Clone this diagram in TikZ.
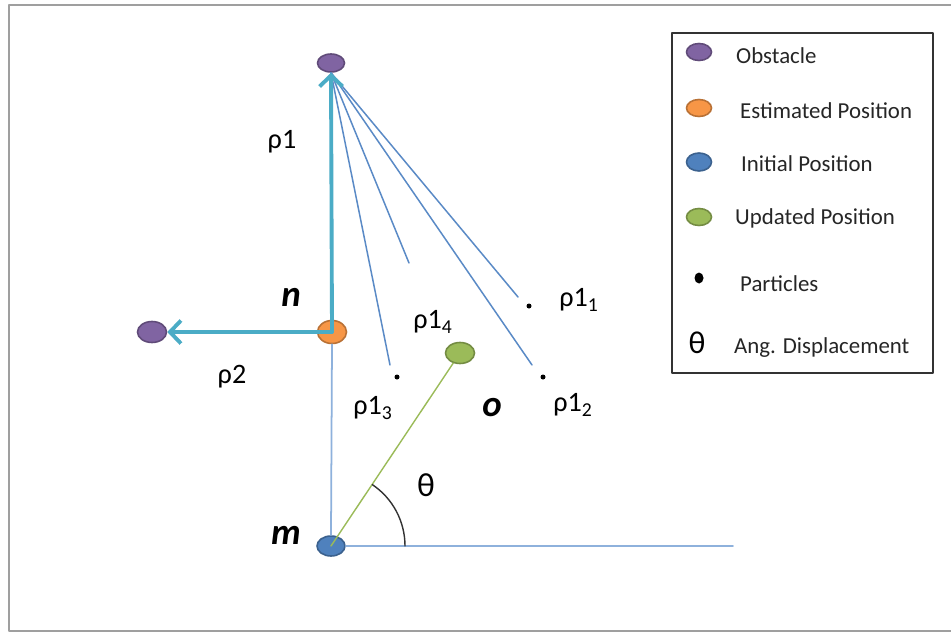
\documentclass[tikz,border=0pt]{standalone}
\usepackage{fontspec}
\setmainfont{Carlito}
\usetikzlibrary{shapes.geometric,arrows.meta}
\definecolor{obstpurple}{HTML}{8064A2}
\definecolor{estorange}{HTML}{F79646}
\definecolor{initblue}{HTML}{4F81BD}
\definecolor{updgreen}{HTML}{9BBB59}
\definecolor{beamcyan}{HTML}{4BACC6}
\definecolor{rayblue}{HTML}{5A8AC6}
\definecolor{axisblue}{HTML}{8EB1DC}

\begin{document}
\begin{tikzpicture}[line cap=round,line join=round,
  blob/.style={ellipse,draw=#1!75!black,fill=#1,line width=0.9pt,inner sep=0pt,
    minimum width=0.56cm,minimum height=0.40cm},
  particle/.style={circle,fill=black,inner sep=0pt,minimum size=0.10cm},
  ray/.style={draw=rayblue,line width=0.85pt},
  beam/.style={draw=beamcyan,line width=2.2pt,
    -{Straight Barb[length=2.2mm,width=4.6mm,line width=2.2pt]}},
  lbl/.style={font=\fontsize{16}{16}\selectfont},
  pt/.style={font=\fontsize{21}{21}\selectfont\bfseries\itshape},
  key/.style={anchor=west,font=\fontsize{13}{13}\selectfont,text=black!85}]
  \useasboundingbox (0,0) rectangle (19.02,12.66);
  \fill[white] (0,0) rectangle (19.02,12.66);
  \draw[gray!75,line width=1pt] (19.02,12.56) -- (0.18,12.56) -- (0.18,0.04) -- (19.02,0.04);

  % positions
  \node[blob=obstpurple,minimum width=0.54cm,minimum height=0.36cm] (obsA) at (6.62,11.40) {};
  \node[blob=obstpurple,minimum width=0.58cm,minimum height=0.42cm] (obsB) at (3.04,6.02) {};
  \node[blob=estorange,minimum width=0.58cm,minimum height=0.46cm] (n) at (6.64,6.02) {};
  \node[blob=updgreen,minimum width=0.58cm,minimum height=0.42cm] (o) at (9.20,5.60) {};
  \node[blob=initblue,minimum width=0.56cm,minimum height=0.40cm] (m) at (6.62,1.74) {};
  \coordinate (xend) at (14.66,1.74);

  % particles
  \node[particle] (p1) at (10.58,6.54) {};
  \node[particle] (p2) at (10.86,5.12) {};
  \node[particle] (p3) at (7.94,5.12) {};
  \coordinate (r1) at (10.36,6.72);
  \coordinate (r2) at (10.64,5.36);
  \coordinate (r3) at (7.80,5.36);
  \coordinate (r4) at (8.18,7.40);

  % rays
  \foreach \r in {r1,r2,r3,r4}
    \draw[ray] (obsA.south) -- (\r);
  \draw[draw=axisblue,line width=1pt] (n.south) -- (m.north);
  \draw[draw=axisblue,line width=1pt] (m.east) -- (xend);
  \draw[draw=updgreen,line width=0.8pt] (m.center) -- (o);
  \draw[line width=0.8pt,black!80] ([shift={(0:1.48)}]m.center) arc (0:56:1.48);
  \draw[beam] (n.center) -- (obsA.south);
  \draw[beam] (n.center) -- (obsB.east);

  % labels
  \node[lbl] (lr1) at (5.64,9.82) {ρ1};
  \node[lbl] (lr2) at (4.64,5.12) {ρ2};
  \node[lbl] (lr14) at (8.66,6.22) {ρ1\textsubscript{4}};
  \node[lbl] (lr13) at (7.46,4.50) {ρ1\textsubscript{3}};
  \node[lbl] (lr11) at (11.58,6.66) {ρ1\textsubscript{1}};
  \node[lbl] (lr12) at (11.46,4.56) {ρ1\textsubscript{2}};
  \node[pt] (ln) at (5.82,6.72) {n};
  \node[pt] (lo) at (9.84,4.50) {o};
  \node[pt] (lm) at (5.72,1.96) {m};
  \node[font=\fontsize{19}{19}\selectfont] (lth) at (8.52,2.96) {θ};

  % legend
  \node[draw=black!80,line width=1pt,minimum width=5.22cm,minimum height=6.80cm] (legend) at (16.05,8.60) {};
  \node[blob=obstpurple,minimum width=0.50cm,minimum height=0.34cm] (kA) at (13.98,11.62) {};
  \node[blob=estorange,minimum width=0.50cm,minimum height=0.34cm] (kB) at (13.98,10.50) {};
  \node[blob=initblue,minimum width=0.50cm,minimum height=0.36cm] (kC) at (13.98,9.42) {};
  \node[blob=updgreen,minimum width=0.50cm,minimum height=0.34cm] (kD) at (13.98,8.32) {};
  \node[ellipse,fill=black,inner sep=0pt,minimum width=0.18cm,minimum height=0.22cm] (kE) at (13.98,7.10) {};
  \node[font=\fontsize{18}{18}\selectfont] (kF) at (13.94,5.80) {θ};
  \node[key] (tA) at (14.60,11.54) {Obstacle};
  \node[key] (tB) at (14.68,10.44) {Estimated Position};
  \node[key] (tC) at (14.70,9.38) {Initial Position};
  \node[key] (tD) at (14.58,8.30) {Updated Position};
  \node[key] (tE) at (14.68,6.98) {Particles};
  \node[key] (tF) at (14.56,5.70) {Ang. Displacement};
\end{tikzpicture}
\end{document}
